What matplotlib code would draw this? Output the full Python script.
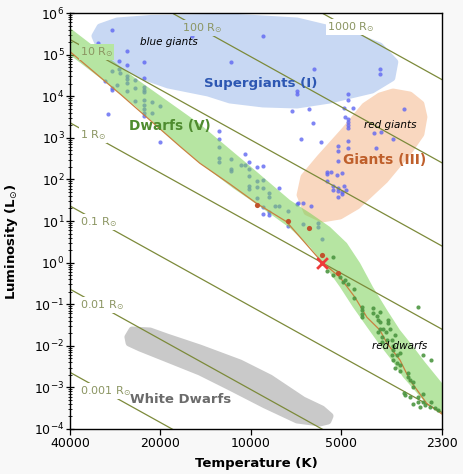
import matplotlib
matplotlib.use("Agg")
import matplotlib.pyplot as plt
import numpy as np
from matplotlib.ticker import LogLocator, NullFormatter, NullLocator

plt.rcParams['font.family'] = ['DejaVu Sans']

# constant radius lines: luminosity at the left (40000 K) and right (2300 K) edge
radius_labels = ['0.001', '0.01', '0.1', '1', '10', '100', '1000']
edge_temps = [40000, 2300]
lum_left = [2.3e-3, 0.23, 23, 2.3e3, 2.3e5, 2.3e7, 2.3e9]
lum_right = [2.5e-8, 2.5e-6, 2.5e-4, 2.5e-2, 2.5, 250, 2.5e4]

# stars (log10 T, log10 L)
blue_logT = [4.461, 4.509, 4.411, 4.438, 4.411, 4.356, 4.462, 4.438, 4.435, 4.411,
             4.411, 4.384, 4.356, 4.486, 4.411, 4.446, 4.462, 4.462, 4.411, 4.384,
             4.356, 4.356, 4.356, 4.384, 4.356, 4.329, 4.302, 4.356, 4.356, 4.329,
             4.356, 4.356, 4.476, 4.302,
             4.194, 4.065, 3.958, 3.788, 3.569, 3.569, 3.844, 3.844, 3.676, 3.676,
             3.863, 3.804, 3.688, 3.660, 3.488, 3.685, 3.676, 3.676, 3.676, 3.676,
             3.793, 3.589, 3.566, 3.526, 3.833, 3.764, 3.676, 3.708, 3.676, 3.708,
             3.582, 3.708, 3.746, 3.732, 3.746, 3.713, 3.695, 3.746, 3.724, 3.708,
             3.688, 3.724, 3.708, 3.696, 3.683, 3.708, 3.695, 3.841, 3.824, 3.799,
             4.104, 4.104, 4.104, 4.019, 4.104, 4.104, 4.066, 4.066, 4.066, 4.033,
             4.019, 4.004, 4.004, 3.980, 3.958, 4.004, 3.980, 3.958, 4.004, 4.004,
             3.980, 3.958, 3.938, 3.904, 3.938, 3.980, 3.958, 3.919, 3.904, 3.938,
             3.938, 3.958, 3.876, 3.876, 3.844,
             3.824, 3.776, 3.776, 3.763]
blue_logL = [5.591, 5.272, 5.094, 4.853, 4.743, 4.815, 4.613, 4.647, 4.550, 4.493,
             4.421, 4.389, 4.438, 4.373, 4.325, 4.262, 4.190, 4.149, 4.132, 4.204,
             4.228, 4.149, 4.108, 3.885, 3.909, 3.861, 3.772, 3.788, 3.692, 3.596,
             3.603, 3.517, 3.572, 2.906,
             5.447, 4.829, 5.447, 4.654, 4.647, 4.534, 4.132, 4.046, 4.046, 3.909,
             3.644, 3.700, 3.724, 3.724, 3.700, 3.493, 3.445, 3.380, 3.308, 3.228,
             3.349, 3.123, 3.147, 2.964, 2.978, 2.906, 2.930, 2.803, 2.748, 2.690,
             2.748, 2.450, 2.185, 2.171, 2.123, 2.106, 2.147, 1.969, 1.841, 1.800,
             1.841, 1.745, 1.721, 1.704, 1.745, 1.584, 1.642, 1.425, 1.440, 1.361,
             3.171, 2.964, 2.772, 2.603, 2.507, 2.425, 2.490, 2.250, 2.195, 2.339,
             2.339, 2.411, 2.250, 2.305, 2.329, 2.089, 1.969, 1.986, 1.849, 1.769,
             1.810, 1.786, 1.680, 1.786, 1.570, 1.546, 1.344, 1.361, 1.361, 1.224,
             1.144, 1.161, 1.248, 0.880, 1.409,
             0.928, 0.959, 0.863, 0.567]

red_logT = [3.980, 3.876, 3.805, 3.763, 3.708]
red_logL = [1.385, 1.000, 0.832, 0.183, -0.257]

green_logT = [3.724, 3.746, 3.724, 3.702, 3.693, 3.685, 3.676, 3.654, 3.654, 3.630,
              3.630, 3.630, 3.630, 3.591, 3.569, 3.591, 3.578, 3.574, 3.569, 3.541,
              3.541, 3.441, 3.569, 3.574, 3.558, 3.549, 3.535, 3.519, 3.563, 3.544,
              3.530, 3.563, 3.524, 3.524, 3.530, 3.513, 3.502, 3.526, 3.513, 3.502,
              3.519, 3.502, 3.426, 3.399, 3.474, 3.474, 3.469, 3.458, 3.458, 3.488,
              3.485, 3.469, 3.441, 3.458, 3.441, 3.426, 3.426, 3.400, 3.402, 3.385,
              3.374, 3.419, 3.435]
green_logL = [0.127, -0.195, -0.298, -0.353, -0.459, -0.418, -0.522, -0.635, -0.858, -1.060,
              -1.139, -1.236, -1.300, -1.099, -1.180, -1.204, -1.284, -1.380, -1.421, -1.380,
              -1.459, -1.060, -1.603, -1.661, -1.603, -1.661, -1.603, -1.740, -1.781, -1.861,
              -1.861, -1.901, -2.005, -2.101, -2.221, -2.221, -2.180, -2.341, -2.421, -2.462,
              -2.541, -2.599, -2.221, -2.341, -2.661, -2.743, -2.822, -2.863, -2.983, -3.127,
              -3.183, -3.224, -3.224, -3.399, -3.344, -3.159, -3.344, -3.344, -3.464, -3.502,
              -3.543, -3.423, -3.464]

sun_temp, sun_lum = 5778, 1.0

# main sequence track
zams_logT = [4.602, 4.435, 4.235, 4.169, 4.069, 3.980, 3.880, 3.763, 3.702, 3.652,
             3.612, 3.569, 3.545, 3.502, 3.469, 3.413, 3.362]
zams_logL = [5.070, 4.053, 2.791, 2.387, 1.889, 1.425, 0.983, 0.02, -0.353, -0.834,
             -1.315, -1.620, -1.940, -2.341, -2.822, -3.382, -3.639]

# region outlines (log10 T, log10 L)
band_top_logT = [4.669, 4.602, 4.385, 4.169, 4.002, 3.869, 3.802, 3.735, 3.679, 3.635,
                 3.592, 3.545, 3.502, 3.462, 3.419, 3.362, 3.302]
band_top_logL = [6.0, 5.639, 4.438, 3.332, 2.322, 1.505, 1.192, 0.856, 0.471, -0.010,
                 -0.587, -1.139, -1.620, -1.981, -2.389, -2.894, -3.423]
band_bot_logT = [4.669, 4.602, 4.502, 4.385, 4.275, 4.169, 4.059, 3.962, 3.869, 3.802,
                 3.759, 3.702, 3.659, 3.612, 3.569, 3.525, 3.492, 3.425, 3.362, 3.302]
band_bot_logL = [5.35, 4.990, 4.438, 3.764, 3.043, 2.394, 1.793, 1.313, 0.832, 0.375,
                 -0.010, -0.587, -1.067, -1.548, -1.981, -2.389, -2.750, -3.303, -3.591, -3.832]

sg_logT = [4.519, 4.502, 4.445, 4.335, 4.225, 4.069, 3.845, 3.679, 3.569, 3.519,
           3.529, 3.595, 3.735, 3.845, 3.959, 4.069, 4.142, 4.275, 4.352, 4.445, 4.502]
sg_logL = [5.447, 5.663, 5.808, 5.868, 5.880, 5.904, 5.808, 5.519, 5.207, 4.822,
           4.438, 4.149, 3.909, 3.788, 3.813, 3.909, 4.077, 4.269, 4.462, 4.822, 5.159]

giant_logT = [3.525, 3.469, 3.432, 3.422, 3.432, 3.469, 3.552, 3.645, 3.702, 3.762,
              3.812, 3.835, 3.822, 3.769, 3.685, 3.619, 3.569]
giant_logL = [4.101, 4.029, 3.813, 3.500, 3.091, 2.707, 1.986, 1.361, 1.120, 1.048,
              1.216, 1.625, 2.058, 2.514, 3.188, 3.764, 4.005]

wd_logT = [4.409, 4.395, 4.335, 4.279, 4.169, 4.035, 3.935, 3.825, 3.762, 3.735,
           3.742, 3.769, 3.845, 3.952, 4.069, 4.169, 4.269, 4.369, 4.405]
wd_logL = [-1.788, -1.620, -1.644, -1.788, -2.053, -2.413, -2.774, -3.303, -3.519, -3.688,
           -3.808, -3.856, -3.784, -3.423, -2.990, -2.630, -2.341, -2.053, -1.933]

x_ticks = [40000, 20000, 10000, 5000, 2300]
y_exponents = list(range(-4, 7))

c_sg = '#c8d8f3'
c_giant = '#f9d7bf'
c_band = '#7ad156'
c_band_flat = '#b6e6a2'
c_wd = '#c9c9c9'
c_line = '#7c8a3a'
c_rlabel = '#8b9562'

fig = plt.figure(figsize=(4.64, 4.74), dpi=100, facecolor='#f8f8f8')
ax = fig.add_axes([70 / 464, 1 - 429 / 474, 372 / 464, 416 / 474])
ax.set_facecolor('white')
ax.set_xscale('log')
ax.set_yscale('log')
ax.set_xlim(40000, 2300)
ax.set_ylim(1e-4, 1e6)


def p(v):
    return 10 ** np.array(v)


def blob(lt, ll, color):
    ax.fill(p(lt), p(ll), fc=color, ec=color, lw=5, joinstyle='round', zorder=1)


blob(sg_logT, sg_logL, c_sg)
blob(giant_logT, giant_logL, c_giant)
blob(wd_logT, wd_logL, c_wd)

ax.scatter(p(blue_logT), p(blue_logL), s=9, color='#5f67f2', alpha=0.8, lw=0, zorder=2)

# dwarf band laid over the hot stars
ax.fill(p(band_top_logT + band_bot_logT[::-1]), p(band_top_logL + band_bot_logL[::-1]),
        fc=c_band, ec='none', alpha=0.55, zorder=3)

for lo, hi in zip(lum_left, lum_right):
    ax.plot(edge_temps, [lo, hi], color=c_line, lw=0.9, zorder=4)

ax.plot(p(zams_logT), p(zams_logL), color='#c8813f', lw=0.9, zorder=4.5)

# radius labels
label_spots = [(37060, 10 ** -3.09, 'white'), (37060, 10 ** -1.02, 'white'),
               (37060, 10 ** 0.98, 'white'), (37060, 10 ** 3.07, 'white'),
               (37060, 10 ** 5.06, c_band_flat), (16900, 10 ** 5.64, c_sg),
               (5560, 10 ** 5.66, 'white')]
for name, (tx, ty, bg) in zip(radius_labels, label_spots):
    ax.text(tx, ty, name + r' R$_{\odot}$', color=c_rlabel, fontsize=8, ha='left', va='center',
            zorder=4.8, bbox=dict(fc=bg, ec='none', pad=0.6))

ax.scatter(p(green_logT), p(green_logL), s=9, color='#4c9641', alpha=0.9, lw=0, zorder=5)
ax.scatter(p(red_logT), p(red_logL), s=14, color='#c0532c', lw=0, zorder=5)
ax.scatter([sun_temp], [sun_lum], s=60, marker='x', color='#ee3b3b', lw=2, zorder=6)

ax.text(9230, 2.07e4, 'Supergiants (I)', color='#2d57b2', fontsize=9.6, fontweight='bold',
        ha='center', va='center', zorder=7)
ax.text(18700, 2.0e5, 'blue giants', fontsize=7.5, style='italic', ha='center', va='center', zorder=7)
ax.text(18600, 1.92e3, 'Dwarfs (V)', color='#4f8c2f', fontsize=9.8, fontweight='bold',
        ha='center', va='center', zorder=7)
ax.text(3565, 293, 'Giants (III)', color='#bf5f2b', fontsize=10, fontweight='bold',
        ha='center', va='center', zorder=7)
ax.text(3430, 2030, 'red giants', fontsize=7.5, style='italic', ha='center', va='center', zorder=7)
ax.text(3175, 9.9e-3, 'red dwarfs', fontsize=7.5, style='italic', ha='center', va='center', zorder=7)
ax.text(17060, 5.0e-4, 'White Dwarfs', color='#6b6b6b', fontsize=9.5, fontweight='bold',
        ha='center', va='center', zorder=7)

ax.set_xticks(x_ticks)
ax.set_xticklabels([str(t) for t in x_ticks])
ax.xaxis.set_minor_locator(NullLocator())
ax.set_yticks([10.0 ** k for k in y_exponents])
ax.set_yticklabels([r'$10^{%d}$' % k for k in y_exponents])
ax.yaxis.set_minor_locator(LogLocator(base=10, subs=np.arange(2, 10), numticks=100))
ax.yaxis.set_minor_formatter(NullFormatter())
ax.tick_params(axis='y', which='major', direction='inout', length=6, width=0.9, labelsize=9, pad=1)
ax.tick_params(axis='y', which='minor', direction='inout', length=3, width=0.6)
ax.tick_params(axis='x', which='major', direction='out', length=4, width=0.9, labelsize=9, pad=2)
for s in ax.spines.values():
    s.set_linewidth(1)
    s.set_zorder(8)

ax.set_xlabel('Temperature (K)', fontsize=9.5, fontweight='bold', labelpad=5)
ax.set_ylabel(r'Luminosity (L$_{\odot}$)', fontsize=9.5, fontweight='bold')
ax.yaxis.set_label_coords(-0.135, 0.45)

fig.savefig('out.png', dpi=100, facecolor=fig.get_facecolor())
